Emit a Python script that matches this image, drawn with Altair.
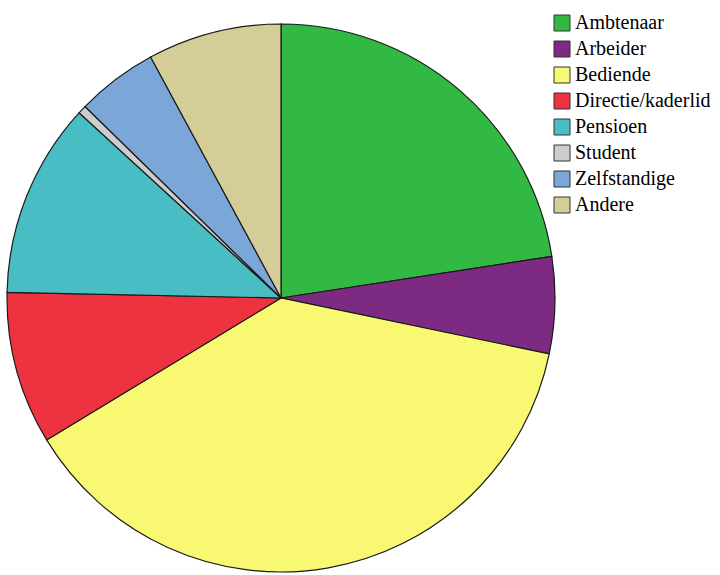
import altair as alt
import pandas as pd

categories = ["Ambtenaar", "Arbeider", "Bediende", "Directie/kaderlid", "Pensioen", "Student", "Zelfstandige", "Andere"]
values = [22.6, 5.7, 38.1, 9.0, 11.5, 0.5, 4.8, 7.9]
colors = ["#31b944", "#7d2a82", "#f9f872", "#ee3340", "#48bec4", "#cdcdcd", "#7aa6d8", "#d4cd98"]

df = pd.DataFrame({"cat": categories, "val": values, "order": list(range(len(categories)))})

chart = alt.Chart(df).mark_arc(radius=274, stroke="#1a1a1a", strokeWidth=1.2).encode(
    theta=alt.Theta("val:Q", stack=True),
    order=alt.Order("order:Q"),
    x=alt.value(281),
    y=alt.value(298),
    color=alt.Color(
        "cat:N",
        sort=categories,
        scale=alt.Scale(domain=categories, range=colors),
        legend=alt.Legend(
            title=None,
            orient="none",
            legendX=552,
            legendY=13,
            symbolType="square",
            symbolSize=256,
            symbolStrokeColor="#333333",
            symbolStrokeWidth=1,
            labelFont="Times New Roman, Liberation Serif, serif",
            labelFontSize=20,
            labelColor="#000000",
            labelLimit=250,
            labelOffset=3,
            rowPadding=6,
        ),
    ),
).properties(width=720, height=575, padding=0, autosize=alt.AutoSizeParams(type="none")).configure_view(
    stroke=None
)

chart.save("out.html", embed_options={"renderer": "svg", "actions": False})
